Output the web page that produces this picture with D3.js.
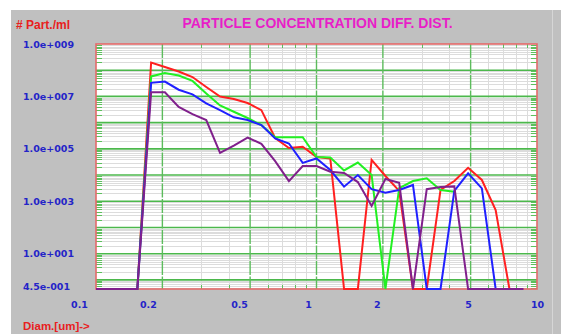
<!DOCTYPE html>
<html lang="en">
<head>
  <meta charset="UTF-8">
  <script src="https://cdn.jsdelivr.net/npm/d3@7"></script>
  <title>Particle concentration</title>
  <style>
    body { margin: 0; background: #fff; }
    svg { display: block; }
  </style>
</head>
<body>
  <svg width="561" height="334"></svg>
  <script>
    // bin diameters (um), 16 bins per decade
    var diameters = [0.1, 0.11548, 0.13335, 0.15399, 0.17783, 0.20535, 0.23714, 0.27384,
                     0.31623, 0.36517, 0.4217, 0.48697, 0.56234, 0.64938, 0.74989, 0.86596,
                     1.0, 1.15478, 1.33352, 1.53993, 1.77828, 2.05353, 2.37137, 2.73842,
                     3.16228, 3.65174, 4.21697, 4.86968, 5.62341, 6.49382, 7.49894, 8.65964];

    // # part./ml for each bin (0 = below the axis bottom)
    var red    = [0, 0, 0, 0, 1.97e8, 1.33e8, 8.9e7, 5.5e7, 2.3e7, 9.9e6, 8.0e6, 5.6e6, 3.0e6, 2.6e5, 1.08e5, 1.2e5,
                  4.9e4, 4.3e4, 0, 0, 3.8e4, 9.2e3, 2.5e3, 0, 0, 2.7e3, 5.9e3, 1.9e4, 6.5e3, 4.6e2, 0, 0];
    var green  = [0, 0, 0, 0, 5.8e7, 7.8e7, 6.3e7, 3.9e7, 1.3e7, 4.5e6, 2.6e6, 1.5e6, 8.1e5, 2.8e5, 2.8e5, 2.8e5,
                  4.9e4, 4.7e4, 1.5e4, 3.0e4, 1.0e4, 0, 3.2e3, 5.9e3, 7.5e3, 2.7e3, 2.3e3];
    var blue   = [0, 0, 0, 0, 3.3e7, 3.7e7, 1.8e7, 1.2e7, 5.4e6, 3.0e6, 1.6e6, 1.26e6, 8.1e5, 2.5e5, 1.6e5, 2.9e4,
                  4.3e4, 1.56e4, 3.6e3, 1.0e4, 2.9e3, 2.1e3, 2.7e3, 4.2e3, 0, 0, 2.5e3, 1.17e4, 3.1e3, 0, 0, 0];
    var purple = [0, 0, 0, 0, 1.44e7, 1.44e7, 3.95e6, 2.1e6, 1.26e6, 7.0e4, 1.34e5, 2.7e5, 1.56e5, 3.4e4, 5.9e3, 2.2e4,
                  2.2e4, 1.34e4, 1.2e4, 5.4e3, 6.6e2, 7.1e3, 5.1e3, 0, 2.9e3, 3.5e3, 3.7e3, 0, 0, 0, 0, 0];

    var series = [
      {values: red, color: "#ff2020"},
      {values: green, color: "#22f022"},
      {values: blue, color: "#2020ff"},
      {values: purple, color: "#80208c"}
    ];

    // tick labels
    var xTicks = [0.1, 0.2, 0.5, 1, 2, 5, 10];
    var xMajor = [0.2, 0.5, 1, 2, 5];
    var yTicks = [1e9, 1e7, 1e5, 1e3, 1e1, 0.45];
    var yTickLabels = ["1.0e+009", "1.0e+007", "1.0e+005", "1.0e+003", "1.0e+001", "4.5e-001"];
    var yMajor = [1, 10, 100, 1e3, 1e4, 1e5, 1e6, 1e7, 1e8];

    var svg = d3.select("svg");
    var plot = {left: 96, right: 537, top: 44, bottom: 289};
    var yMin = 0.45;

    var x = d3.scaleLog().domain([0.1, 10]).range([plot.left, plot.right]);
    var xLabel = d3.scaleLog().domain([0.1, 10]).range([79, 537]); // labels sit a bit left of grid
    var y = d3.scaleLog().domain([yMin, 1e9]).range([plot.bottom, plot.top]);

    // panel
    svg.append("rect").attr("x", 11).attr("y", 10).attr("width", 550).attr("height", 324).attr("fill", "#c0c0c0");
    svg.append("line").attr("x1", 552.5).attr("x2", 552.5).attr("y1", 10).attr("y2", 334)
      .attr("stroke", "#d6d6d6").attr("stroke-width", 1);

    // plot background
    svg.append("rect").attr("x", plot.left).attr("y", plot.top)
      .attr("width", plot.right - plot.left).attr("height", plot.bottom - plot.top)
      .attr("fill", "#fff");

    var grid = svg.append("g");
    var yMinor = y.ticks(20).filter(function(d){ return yMajor.indexOf(d) < 0 && d < 1e9 && d > yMin; });
    var xMinor = x.ticks().filter(function(d){ return xMajor.indexOf(d) < 0 && d > 0.1 && d < 10; });

    // minor grid
    grid.selectAll(".hminor").data(yMinor).enter().append("line")
      .attr("x1", plot.left).attr("x2", plot.right)
      .attr("y1", function(d){ return Math.round(y(d)) + 0.5; })
      .attr("y2", function(d){ return Math.round(y(d)) + 0.5; })
      .attr("stroke", "#dcdcdc").attr("stroke-width", 1);
    grid.selectAll(".vminor").data(xMinor).enter().append("line")
      .attr("x1", function(d){ return Math.round(x(d)) + 0.5; })
      .attr("x2", function(d){ return Math.round(x(d)) + 0.5; })
      .attr("y1", plot.top).attr("y2", plot.bottom)
      .attr("stroke", "#dcdcdc").attr("stroke-width", 1);

    // edge ticks (green)
    grid.selectAll(".ltick").data(yMinor).enter().append("line")
      .attr("x1", plot.left).attr("x2", plot.left + 6)
      .attr("y1", function(d){ return Math.round(y(d)) + 0.5; })
      .attr("y2", function(d){ return Math.round(y(d)) + 0.5; })
      .attr("stroke", "#5cc05c");
    grid.selectAll(".rtick").data(yMinor).enter().append("line")
      .attr("x1", plot.right - 6).attr("x2", plot.right)
      .attr("y1", function(d){ return Math.round(y(d)) + 0.5; })
      .attr("y2", function(d){ return Math.round(y(d)) + 0.5; })
      .attr("stroke", "#5cc05c");
    grid.selectAll(".btick").data(xMinor).enter().append("line")
      .attr("x1", function(d){ return Math.round(x(d)) + 0.5; })
      .attr("x2", function(d){ return Math.round(x(d)) + 0.5; })
      .attr("y1", plot.bottom - 4).attr("y2", plot.bottom)
      .attr("stroke", "#5cc05c");
    grid.selectAll(".ttick").data(xMinor).enter().append("line")
      .attr("x1", function(d){ return Math.round(x(d)) + 0.5; })
      .attr("x2", function(d){ return Math.round(x(d)) + 0.5; })
      .attr("y1", plot.top).attr("y2", plot.top + 4)
      .attr("stroke", "#5cc05c");

    // major grid
    grid.selectAll(".hmajor").data(yMajor).enter().append("line")
      .attr("x1", plot.left).attr("x2", plot.right)
      .attr("y1", function(d){ return y(d); })
      .attr("y2", function(d){ return y(d); })
      .attr("stroke", "#4cb84c").attr("stroke-width", 1.6);
    grid.selectAll(".vmajor").data(xMajor).enter().append("line")
      .attr("x1", function(d){ return x(d); })
      .attr("x2", function(d){ return x(d); })
      .attr("y1", plot.top).attr("y2", plot.bottom)
      .attr("stroke", "#5cbc5c").attr("stroke-width", 1.4)
      .attr("stroke-dasharray", "14,1.5");

    // frame
    svg.append("rect").attr("x", plot.left).attr("y", plot.top)
      .attr("width", plot.right - plot.left).attr("height", plot.bottom - plot.top)
      .attr("fill", "none").attr("stroke", "#e46a6a").attr("stroke-width", 1.6);

    // series
    var line = d3.line()
      .x(function(d, i){ return x(diameters[i]); })
      .y(function(d){ return y(Math.max(d, yMin)); });

    svg.selectAll(".series").data(series).enter().append("path")
      .attr("d", function(s){ return line(s.values); })
      .attr("fill", "none")
      .attr("stroke", function(s){ return s.color; })
      .attr("stroke-width", 2)
      .attr("stroke-linejoin", "miter");

    // axes (labels only)
    var yAxis = d3.axisRight(y).tickValues(yTicks).tickSize(0).tickPadding(0)
      .tickFormat(function(d, i){ return yTickLabels[i]; });
    var gy = svg.append("g").attr("transform", "translate(23,0)").call(yAxis);
    gy.select(".domain").remove();
    gy.selectAll("text")
      .attr("fill", "#2424c8")
      .attr("font-family", "DejaVu Sans, sans-serif").attr("font-weight", "bold").attr("font-size", 9.5)
      .attr("y", function(d){ return d === yMin ? -3 : 0; });

    var xAxis = d3.axisBottom(xLabel).tickValues(xTicks).tickSize(0).tickPadding(0)
      .tickFormat(d3.format("~g"));
    var gx = svg.append("g").attr("transform", "translate(0,301)").call(xAxis);
    gx.select(".domain").remove();
    gx.selectAll("text")
      .attr("fill", "#2424c8")
      .attr("font-family", "DejaVu Sans, sans-serif").attr("font-weight", "bold").attr("font-size", 9.5);

    // titles
    svg.append("text").attr("x", 317.5).attr("y", 28).attr("text-anchor", "middle")
      .attr("fill", "#e81ec8").attr("font-family", "Liberation Sans, Arial, sans-serif")
      .attr("font-weight", "bold").attr("font-size", 14)
      .text("PARTICLE CONCENTRATION DIFF. DIST.");
    svg.append("text").attr("x", 16).attr("y", 29)
      .attr("fill", "#e82020").attr("font-family", "Liberation Sans, Arial, sans-serif")
      .attr("font-weight", "bold").attr("font-size", 12)
      .text("# Part./ml");
    svg.append("text").attr("x", 23).attr("y", 330)
      .attr("fill", "#e82020").attr("font-family", "Liberation Sans, Arial, sans-serif")
      .attr("font-weight", "bold").attr("font-size", 11.5)
      .text("Diam.[um]->");
  </script>
</body>
</html>
